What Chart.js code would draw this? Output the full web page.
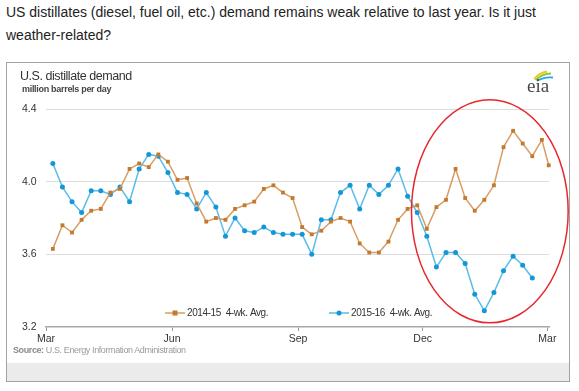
<!DOCTYPE html>
<html>
<head>
<meta charset="utf-8">
<script src="https://cdn.jsdelivr.net/npm/chart.js@4/dist/chart.umd.min.js"></script>
<style>
    html, body { margin: 0; padding: 0; background: #fff; }
    body { width: 579px; height: 391px; position: relative; overflow: hidden;
           font-family: "Liberation Sans", Arial, sans-serif; }
    #headline { position: absolute; left: 6px; top: 1px; width: 560px;
                font-size: 14px; line-height: 23px; color: #222; }
    #box { position: absolute; left: 6px; top: 62px; width: 564px; height: 320px;
           box-sizing: border-box; border: 1.5px solid #a3a3a3; }
    #band { position: absolute; left: 7px; top: 363px; width: 562px; height: 18px; background: #ebebeb; }
    #title { position: absolute; left: 20px; top: 69px; font-size: 12.5px; letter-spacing: -0.45px; color: #333; }
    #subtitle { position: absolute; left: 22px; top: 84px; font-size: 9px; letter-spacing: -0.3px;
                font-weight: bold; color: #444; }
    #source { position: absolute; left: 13px; top: 345px; font-size: 9px; letter-spacing: -0.4px; color: #9a9a9a; }
    #source b { color: #8a8a8a; }
    #logo { position: absolute; left: 524px; top: 68px; }
    #chart { position: absolute; left: 7px; top: 63px; }
</style>
</head>
<body>
<div id="headline">US distillates (diesel, fuel oil, etc.) demand remains weak relative to last year. Is it just weather-related?</div>
<div id="box"></div>
<div id="band"></div>
<canvas id="chart" width="562" height="300"></canvas>
<div id="title">U.S. distillate demand</div>
<div id="subtitle">million barrels per day</div>
<div id="source"><b>Source:</b> U.S. Energy Information Administration</div>
<svg id="logo" width="32" height="28" viewBox="0 0 32 28">
    <path d="M10 11 Q15 5 23 3.5" fill="none" stroke="#f2c515" stroke-width="1.8"/>
    <path d="M11.5 12 Q18 6 27 5.5" fill="none" stroke="#8cc63f" stroke-width="1.8"/>
    <path d="M13 13 Q20 8.5 29 9.5" fill="none" stroke="#27a9e1" stroke-width="1.8"/>
    <text x="3" y="23.5" font-family="Liberation Serif, DejaVu Serif, serif" font-size="19" fill="#4a4a4a">eia</text>
</svg>

<script>
// ─── Data (x = days after 1 March, y = million barrels per day) ──────────────
const WEEK_DAYS = [
    5, 12, 19, 26, 33, 40, 47, 54, 61, 68, 75, 82, 89, 96, 103, 110, 117, 124,
    131, 138, 145, 152, 159, 166, 173, 180, 187, 194, 201, 208, 215, 222, 229,
    236, 243, 250, 257, 264, 271, 278, 285, 292, 299, 306, 313, 320, 327, 334,
    341, 348, 355, 362, 367,
];

const DEMAND_2014_15 = [
    3.63, 3.76, 3.72, 3.79, 3.84, 3.85, 3.94, 3.96, 4.07, 4.10,
    4.08, 4.15, 4.11, 4.01, 4.02, 3.88, 3.78, 3.80, 3.79, 3.85,
    3.87, 3.89, 3.96, 3.98, 3.94, 3.91, 3.75, 3.71, 3.73, 3.78,
    3.80, 3.78, 3.66, 3.61, 3.61, 3.67, 3.79, 3.85, 3.87, 3.74,
    3.86, 3.90, 4.07, 3.91, 3.84, 3.90, 3.98, 4.19, 4.28, 4.21,
    4.14, 4.23, 4.09,
];

const DEMAND_2015_16 = [
    4.10, 3.97, 3.89, 3.83, 3.95, 3.95, 3.93, 3.97, 3.89, 4.07,
    4.15, 4.14, 4.05, 3.94, 3.93, 3.85, 3.94, 3.86, 3.70, 3.80,
    3.73, 3.72, 3.75, 3.72, 3.71, 3.71, 3.71, 3.60, 3.79, 3.79,
    3.94, 3.98, 3.85, 3.98, 3.93, 3.98, 4.07, 3.92, 3.83, 3.70,
    3.53, 3.61, 3.61, 3.55, 3.38, 3.29, 3.39, 3.51, 3.59, 3.54,
    3.47,
];

const SERIES_LABELS = ["2014-15  4-wk. Avg.", "2015-16  4-wk. Avg."];
const X_TICK_DAYS   = [0, 92, 184, 275, 366];
const X_TICK_LABELS = ["Mar", "Jun", "Sep", "Dec", "Mar"];
const Y_TICKS       = [3.2, 3.6, 4.0, 4.4];

// ─── Styling ─────────────────────────────────────────────────────────────────
const ORANGE_LINE = "#d99d64";
const ORANGE_DOT  = "#c27a2f";
const BLUE_LINE   = "#58bde9";
const BLUE_DOT    = "#1497d7";

// red highlight ring around the recent weeks (data coordinates)
const RING = { day: 324, value: 3.837, rxDays: 57.2, ryValue: 0.614 };

const toPoints = (vals) => vals.map((v, i) => ({ x: WEEK_DAYS[i], y: v }));

// ─── Plugins ─────────────────────────────────────────────────────────────────
const insideLegend = {
    id: "insideLegend",
    afterDatasetsDraw(chart) {
        const { ctx, chartArea } = chart;
        const y = chartArea.bottom - 14;
        const starts = [chartArea.left + 119, chartArea.left + 283];
        ctx.save();
        ctx.font = "10px 'Liberation Sans', Arial, sans-serif";
        ctx.letterSpacing = "-0.4px";
        ctx.textBaseline = "middle";
        chart.data.datasets.forEach((ds, i) => {
            const x0 = starts[i];
            ctx.strokeStyle = ds.borderColor;
            ctx.lineWidth = 1.5;
            ctx.beginPath();
            ctx.moveTo(x0, y);
            ctx.lineTo(x0 + 20, y);
            ctx.stroke();
            ctx.fillStyle = ds.pointBackgroundColor;
            if (ds.pointStyle === "rect") {
                ctx.fillRect(x0 + 7.5, y - 2.5, 5, 5);
            } else {
                ctx.beginPath();
                ctx.arc(x0 + 10, y, 2.5, 0, Math.PI * 2);
                ctx.fill();
            }
            ctx.fillStyle = "#333";
            ctx.fillText(SERIES_LABELS[i], x0 + 22, y + 0.5);
        });
        ctx.restore();
    },
};

const highlightRing = {
    id: "highlightRing",
    afterDraw(chart) {
        const { ctx, scales: { x, y } } = chart;
        const cx = x.getPixelForValue(RING.day);
        const cy = y.getPixelForValue(RING.value);
        const rx = x.getPixelForValue(RING.day + RING.rxDays) - cx;
        const ry = cy - y.getPixelForValue(RING.value + RING.ryValue);
        ctx.save();
        ctx.strokeStyle = "#e8262b";
        ctx.lineWidth = 1.5;
        ctx.beginPath();
        ctx.ellipse(cx, cy, rx, ry, 0, 0, Math.PI * 2);
        ctx.stroke();
        ctx.restore();
    },
};

// ─── Chart ───────────────────────────────────────────────────────────────────
Chart.defaults.font.family = "'Liberation Sans', Arial, sans-serif";

new Chart(document.getElementById("chart"), {
    type: "line",
    data: {
        datasets: [
            {
                label: SERIES_LABELS[0],
                data: toPoints(DEMAND_2014_15),
                borderColor: ORANGE_LINE,
                borderWidth: 1.5,
                pointStyle: "rect",
                pointRadius: 2.7,
                pointBackgroundColor: ORANGE_DOT,
                pointBorderWidth: 0,
                tension: 0,
                clip: false,
            },
            {
                label: SERIES_LABELS[1],
                data: toPoints(DEMAND_2015_16),
                borderColor: BLUE_LINE,
                borderWidth: 1.5,
                pointStyle: "circle",
                pointRadius: 2.5,
                pointBackgroundColor: BLUE_DOT,
                pointBorderWidth: 0,
                tension: 0,
                clip: false,
            },
        ],
    },
    options: {
        responsive: false,
        animation: false,
        layout: { padding: { top: 46, right: 20, left: 15, bottom: 0 } },
        plugins: {
            legend: { display: false },
            tooltip: { enabled: false },
        },
        scales: {
            x: {
                type: "linear",
                min: 0,
                max: 367.2,
                afterBuildTicks: s => { s.ticks = X_TICK_DAYS.map(v => ({ value: v })); },
                afterFit: s => { s.height = 36; },
                ticks: {
                    callback: (v, i) => X_TICK_LABELS[i],
                    color: "#333",
                    font: { size: 10.5 },
                    padding: 2,
                    maxRotation: 0,
                    autoSkip: false,
                },
                grid: { drawOnChartArea: false, tickLength: 4, color: "#999" },
                border: { color: "#a8a8a8", width: 1.5 },
            },
            y: {
                min: 3.2,
                max: 4.4,
                afterBuildTicks: s => { s.ticks = Y_TICKS.map(v => ({ value: v })); },
                afterFit: s => { s.width = 24; },
                ticks: {
                    callback: v => v.toFixed(1),
                    color: "#333",
                    font: { size: 10.5 },
                    crossAlign: "far",
                    padding: 9,
                },
                grid: {
                    color: c => (c.tick && c.tick.value === 3.2 ? "rgba(0,0,0,0)" : "#dcdcdc"),
                    drawTicks: false,
                },
                border: { display: false },
            },
        },
    },
    plugins: [insideLegend, highlightRing],
});
</script>
</body>
</html>
